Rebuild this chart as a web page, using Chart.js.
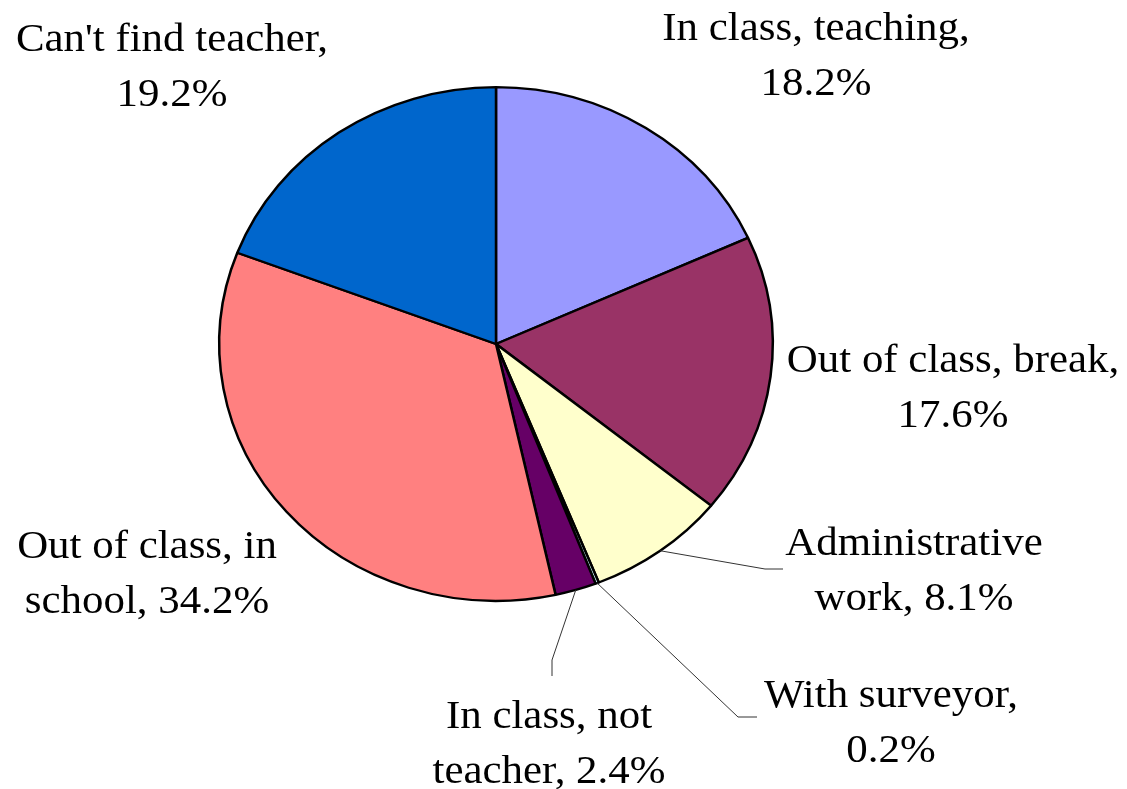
<!DOCTYPE html>
<html>
<head>
<meta charset="utf-8">
<script src="https://cdn.jsdelivr.net/npm/chart.js@4"></script>
<style>
  html, body { margin: 0; padding: 0; background: #fff; }
  #wrap { width: 1127px; height: 789px; position: relative; }
</style>
</head>
<body>
<div id="wrap"><canvas id="myChart"></canvas></div>
<script>
// data
const categories = ["In class, teaching", "Out of class, break", "Administrative work", "With surveyor",
  "In class, not teacher", "Out of class, in school", "Can't find teacher"];
const shares = [18.2, 17.6, 8.1, 0.2, 2.4, 34.2, 19.2];
const sliceColors = ["#9999FF", "#993366", "#FFFFCC", "#CCFFFF", "#660066", "#FF8080", "#0066CC"];

// label layout: words on first line, first-line baseline offset from pie centre, optional leader elbow/end
const labelLayout = [
  { words: 3, dx: 320, dy: -304 },
  { words: 4, dx: 457, dy: 28 },
  { words: 1, dx: 418, dy: 211, elbow: [269, 225], end: [287, 225] },
  { words: 2, dx: 395, dy: 363, elbow: [242, 373], end: [261, 373] },
  { words: 3, dx: 53, dy: 384, elbow: [56, 316], end: [56, 332] },
  { words: 4, dx: -349, dy: 214 },
  { words: 3, dx: -324, dy: -293 }
];

const squash = 258 / 278; // pie is a bit wider than tall
const fontPx = 39;
const stretchX = 1.1;
const lineGap = 55;

const ellipsePie = {
  id: "ellipsePie",
  beforeDatasetsDraw(chart) {
    const arc = chart.getDatasetMeta(0).data[0];
    const ctx = chart.ctx;
    ctx.save();
    ctx.translate(0, arc.y);
    ctx.scale(1, squash);
    ctx.translate(0, -arc.y);
  },
  afterDatasetsDraw(chart) {
    chart.ctx.restore();
  },
  afterDraw(chart) {
    const ctx = chart.ctx;
    const meta = chart.getDatasetMeta(0);
    const cx = meta.data[0].x, cy = meta.data[0].y;
    const r = meta.data[0].outerRadius;
    ctx.save();
    // leader lines
    ctx.strokeStyle = "#333";
    ctx.lineWidth = 1;
    meta.data.forEach((a, i) => {
      const lay = labelLayout[i];
      if (!lay.elbow) return;
      const mid = (a.startAngle + a.endAngle) / 2;
      ctx.beginPath();
      ctx.moveTo(cx + r * Math.cos(mid), cy + r * squash * Math.sin(mid));
      ctx.lineTo(cx + lay.elbow[0], cy + lay.elbow[1]);
      ctx.lineTo(cx + lay.end[0], cy + lay.end[1]);
      ctx.stroke();
    });
    // labels
    ctx.fillStyle = "#000";
    ctx.font = fontPx + "px 'Liberation Serif', 'Times New Roman', serif";
    ctx.textAlign = "center";
    ctx.textBaseline = "alphabetic";
    categories.forEach((name, i) => {
      const lay = labelLayout[i];
      const words = (name + ", " + shares[i].toFixed(1) + "%").split(" ");
      const lines = [words.slice(0, lay.words).join(" "), words.slice(lay.words).join(" ")];
      lines.forEach((t, k) => {
        ctx.save();
        ctx.translate(cx + lay.dx, cy + lay.dy + k * lineGap);
        ctx.scale(stretchX, 1);
        ctx.fillText(t, 0, 0);
        ctx.restore();
      });
    });
    ctx.restore();
  }
};

const ctx = document.getElementById("myChart").getContext("2d");
new Chart(ctx, {
  type: "pie",
  data: {
    labels: categories,
    datasets: [{
      data: shares,
      backgroundColor: sliceColors,
      borderColor: "#000",
      borderWidth: 2.5
    }]
  },
  options: {
    responsive: true,
    maintainAspectRatio: false,
    animation: false,
    layout: { padding: { left: 218, right: 353, top: 66, bottom: 167 } },
    plugins: { legend: { display: false }, tooltip: { enabled: false } }
  },
  plugins: [ellipsePie]
});
</script>
</body>
</html>
